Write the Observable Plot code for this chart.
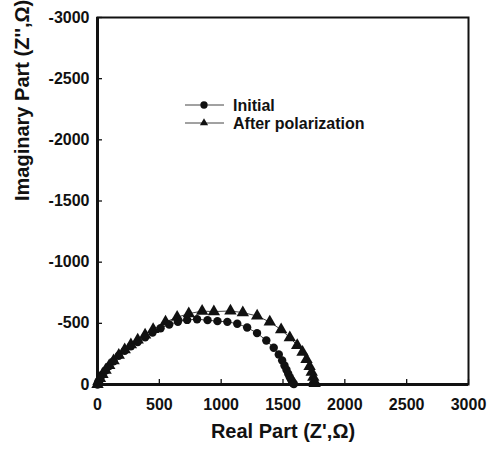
<!DOCTYPE html>
<html><head><meta charset="utf-8">
<script src="https://cdn.jsdelivr.net/npm/d3@7"></script>
<script src="https://cdn.jsdelivr.net/npm/@observablehq/plot@0.6"></script>
<style>body{margin:0;background:#fff;} #chart{width:488px;height:452px;}</style>
</head><body><div id="chart"></div>
<script>
// Initial (circles)
const initialRe = [0,8,20,40,65,95,130,172,220,270,325,385,445,510,580,650,725,805,890,970,1050,1130,1210,1290,1365,1425,1466,1493,1512,1528,1542,1555,1566,1575,1582,1588];
const initialIm = [0,-25,-50,-80,-115,-150,-190,-235,-275,-312,-348,-385,-425,-460,-490,-512,-528,-533,-526,-518,-512,-497,-466,-420,-360,-300,-246,-197,-156,-120,-88,-60,-39,-22,-10,-3];
// After polarization (triangles)
const polRe = [0,8,20,40,65,95,130,172,220,270,325,385,450,550,644,738,846,941,1075,1175,1291,1393,1485,1555,1615,1658,1690,1715,1732,1745,1752,1756];
const polIm = [0,-25,-50,-82,-118,-155,-195,-240,-285,-325,-365,-405,-450,-511,-550,-579,-600,-596,-601,-588,-560,-511,-448,-383,-320,-265,-205,-148,-101,-60,-30,-8];

const xTicks = [0,500,1000,1500,2000,2500,3000];
const yTicks = [0,-500,-1000,-1500,-2000,-2500,-3000];
const seriesNames = ["Initial","After polarization"];
const xTitle = "Real Part (Z',\u03A9)";
const yTitle = "Imaginary Part (Z'',\u03A9)";

const initial = initialRe.map((x,i)=>({x, y: initialIm[i]}));
const polar = polRe.map((x,i)=>({x, y: polIm[i]}));
const ink = "#111";

const chart = Plot.plot({
  width: 488, height: 452,
  marginLeft: 97, marginRight: 20, marginTop: 17, marginBottom: 68,
  style: {fontFamily: "'Liberation Sans', Arial, sans-serif", fontWeight: "bold", fontSize: "16px", color: ink, background: "#fff"},
  x: {domain: [0,3000], label: null},
  y: {domain: [0,-3000], label: null},
  marks: [
    Plot.axisX(xTicks, {tickSize: 5, dy: -5, fill: "none", strokeWidth: 1.3}),
    Plot.axisX(xTicks, {tickSize: 0, tickPadding: 14, fontSize: 16, fontWeight: "bold", tickFormat: d => String(d)}),
    Plot.axisY(yTicks, {tickSize: 5, dx: 5, fill: "none", strokeWidth: 1.3}),
    Plot.axisY(yTicks, {tickSize: 0, tickPadding: 8, fontSize: 16, fontWeight: "bold", tickFormat: d => String(d)}),
    Plot.frame({stroke: ink, strokeWidth: 2}),
    Plot.ruleX([0], {stroke: ink, strokeWidth: 3}),
    Plot.ruleY([0], {stroke: ink, strokeWidth: 3}),
    Plot.line(initial, {x: "x", y: "y", stroke: ink, strokeWidth: 0.8}),
    Plot.line(polar, {x: "x", y: "y", stroke: ink, strokeWidth: 0.8}),
    Plot.dot(initial, {x: "x", y: "y", r: 4.2, fill: ink, symbol: "circle"}),
    Plot.dot(polar, {x: "x", y: "y", r: 4.6, fill: ink, symbol: "triangle"}),
    Plot.text([xTitle], {frameAnchor: "bottom", dy: 53, fontSize: 20, fontWeight: "bold", fill: ink}),
    Plot.text([yTitle], {frameAnchor: "left", dx: -75, rotate: -90, fontSize: 20, fontWeight: "bold", fill: ink})
  ]
});
document.getElementById("chart").appendChild(chart);

// Legend (inside the plot area, pixel placed)
const svg = d3.select(chart);
const lg = svg.append("g").attr("font-family", "'Liberation Sans', Arial, sans-serif").attr("font-weight", "bold").attr("font-size", 16).attr("text-anchor", "start");
const symbols = [d3.symbolCircle, d3.symbolTriangle2];
seriesNames.forEach((name, i) => {
  const y = 105 + i * 18;
  lg.append("line").attr("x1", 185).attr("x2", 224).attr("y1", y).attr("y2", y).attr("stroke", "#444").attr("stroke-width", 1);
  lg.append("path").attr("d", d3.symbol(symbols[i], i === 0 ? 42 : 48)()).attr("transform", `translate(204,${y})`).attr("fill", ink);
  lg.append("text").attr("x", 233).attr("y", y).attr("dy", "0.35em").attr("text-anchor", "start").attr("fill", ink).text(name);
});
</script>
</body></html>
